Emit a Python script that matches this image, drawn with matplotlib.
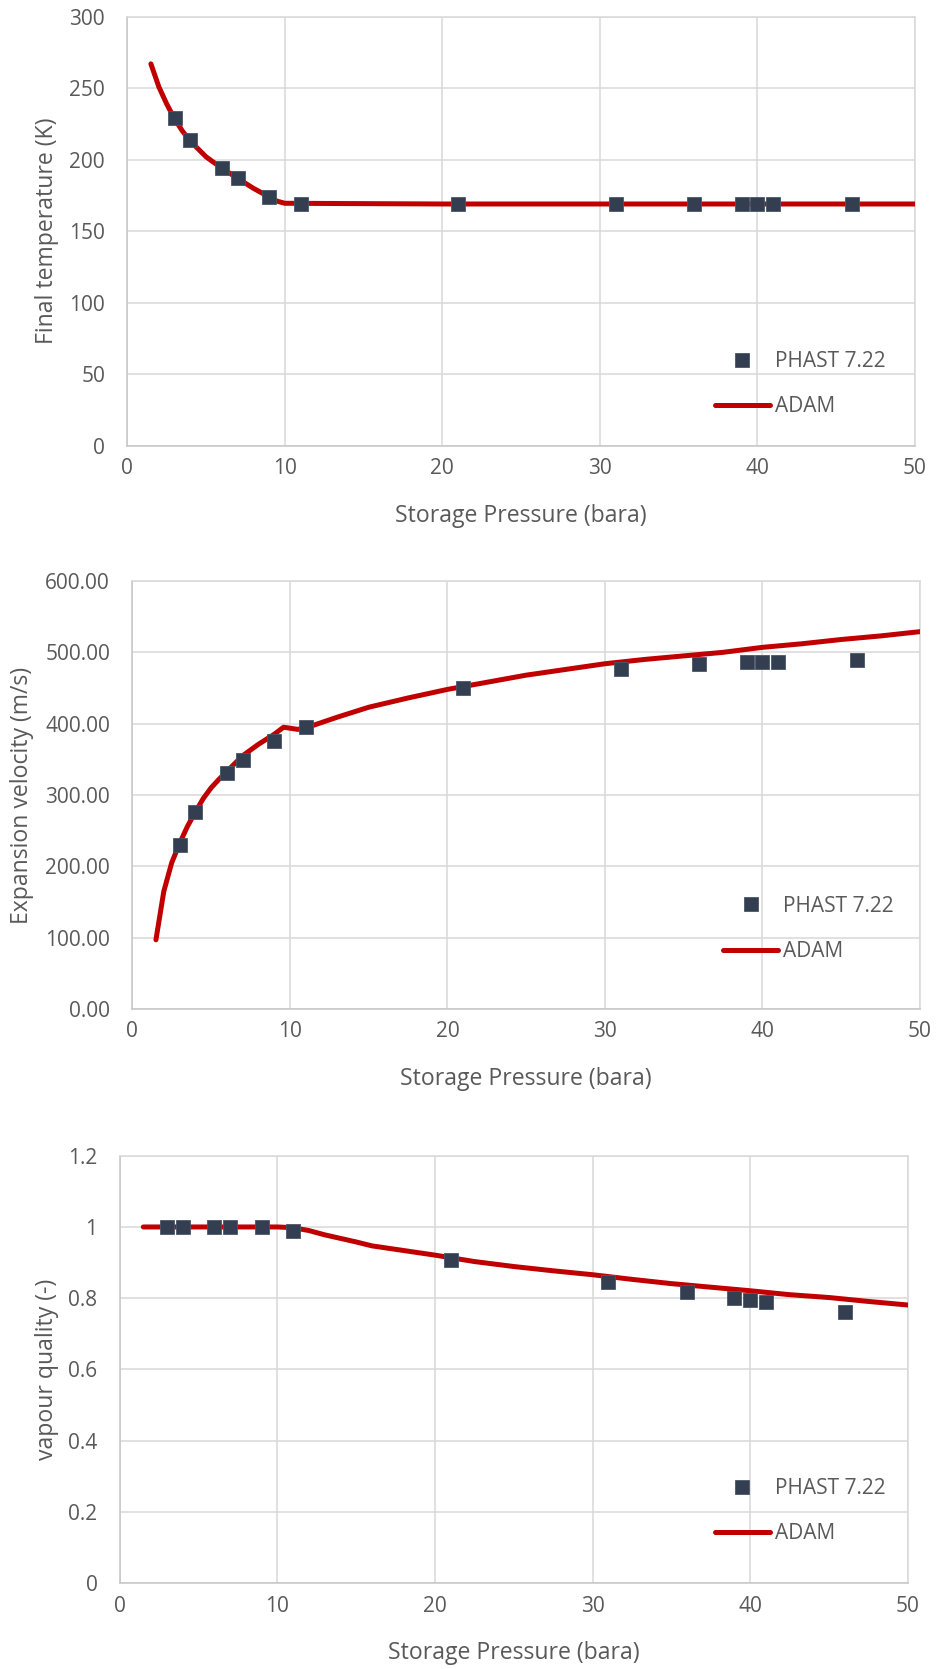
import matplotlib
matplotlib.use("Agg")
import matplotlib.pyplot as plt
from matplotlib.lines import Line2D
from matplotlib.ticker import FormatStrFormatter, FuncFormatter, MultipleLocator

# ---- data -----------------------------------------------------------------
phast_pressure = [3, 4, 6, 7, 9, 11, 21, 31, 36, 39, 40, 41, 46]
phast_temperature = [229, 214, 194, 187, 174, 169, 169, 169, 169, 169, 169, 169, 169]
phast_velocity = [230, 276, 331, 349, 376, 395, 450, 476, 484, 486, 487, 487, 489]
phast_quality = [1.0, 1.0, 1.0, 1.0, 1.0, 0.99, 0.906, 0.846, 0.818, 0.800, 0.796, 0.789, 0.760]

adam_t_pressure = [1.5, 2, 2.5, 3, 3.5, 4, 5, 6, 7, 8, 9, 9.5, 10, 20, 30, 40, 50]
adam_temperature = [267, 251, 239, 228.5, 220, 213, 202, 194, 187, 180, 174, 171, 169.5,
                    169, 169, 169, 169]

adam_v_pressure = [1.5, 2, 2.5, 3, 3.5, 4, 4.5, 5, 5.5, 6, 7, 8, 9, 9.6, 10.5, 11, 13, 15,
                   17.5, 20, 22.5, 25, 27.5, 30, 32.5, 35, 37.5, 40, 42.5, 45, 47.5, 50]
adam_velocity = [97, 165, 205, 232, 256, 276, 295, 310, 322, 333, 355, 371, 385, 395, 392,
                 394, 409, 423, 436, 448, 458, 468, 476, 484, 490, 495, 500, 507, 512, 518,
                 523, 529]

adam_q_pressure = [1.5, 5, 10, 11, 12, 13, 14, 15, 16, 18, 20, 22.5, 25, 27.5, 30, 32.5,
                   35, 37.5, 40, 42.5, 45, 47.5, 50]
adam_quality = [1.0, 1.0, 1.0, 0.998, 0.99, 0.978, 0.968, 0.958, 0.947, 0.934, 0.921, 0.903,
                0.889, 0.877, 0.866, 0.853, 0.841, 0.831, 0.821, 0.810, 0.802, 0.791, 0.781]

x_label = "Storage Pressure (bara)"
series_labels = ["PHAST 7.22", "ADAM"]

# ---- style ----------------------------------------------------------------
plt.rcParams["font.family"] = ["Open Sans", "DejaVu Sans"]
TEXT = "#595959"
GRID = "#d9d9d9"
AXIS = "#c6c6c6"
RED = "#c00000"
NAVY = "#333f50"
TICK_FS = 15
LABEL_FS = 16.6

fig = plt.figure(figsize=(9.36, 16.69), dpi=100)

panels = [
    dict(rect=[0.1360, 0.7330, 0.8415, 0.2570], ylim=(0, 300), ystep=50,
         fmt=FormatStrFormatter("%d"), ylabel="Final temperature (K)",
         px=phast_pressure, py=phast_temperature, ax_=adam_t_pressure, ay=adam_temperature,
         ylab_x=-0.1016, leg=(0.746, 0.2207)),
    dict(rect=[0.14135, 0.39545, 0.8416, 0.25644], ylim=(0, 600), ystep=100,
         fmt=FormatStrFormatter("%.2f"), ylabel="Expansion velocity (m/s)",
         px=phast_pressure, py=phast_velocity, ax_=adam_v_pressure, ay=adam_velocity,
         ylab_x=-0.1397, leg=(0.750, 0.2648)),
    dict(rect=[0.12788, 0.05135, 0.8419, 0.2562], ylim=(0, 1.2), ystep=0.2,
         fmt=FuncFormatter(lambda v, p: f"{v:g}"), ylabel="vapour quality (-)",
         px=phast_pressure, py=phast_quality, ax_=adam_q_pressure, ay=adam_quality,
         ylab_x=-0.0927, leg=(0.755, 0.2458)),
]

for p in panels:
    ax = fig.add_axes(p["rect"])
    ax.set_xlim(0, 50)
    ax.set_ylim(*p["ylim"])
    ax.xaxis.set_major_locator(MultipleLocator(10))
    ax.yaxis.set_major_locator(MultipleLocator(p["ystep"]))
    ax.yaxis.set_major_formatter(p["fmt"])

    ax.grid(True, color=GRID, linewidth=1.1, zorder=0)
    ax.set_axisbelow(True)
    for side in ("top", "right"):
        ax.spines[side].set_color(GRID)
        ax.spines[side].set_linewidth(1.1)
    for side in ("left", "bottom"):
        ax.spines[side].set_color(AXIS)
        ax.spines[side].set_linewidth(1.1)

    ax.tick_params(axis="both", length=0, labelsize=TICK_FS, labelcolor=TEXT)
    ax.tick_params(axis="y", pad=16)
    ax.tick_params(axis="x", pad=9)

    ax.plot(p["ax_"], p["ay"], color=RED, linewidth=3.6, solid_capstyle="round",
            solid_joinstyle="round", zorder=3)
    ax.plot(p["px"], p["py"], linestyle="none", marker="s", markersize=9.6,
            markerfacecolor=NAVY, markeredgecolor="#4a566a", markeredgewidth=0.6, zorder=4)

    ax.set_xlabel(x_label, fontsize=LABEL_FS, color=TEXT)
    ax.xaxis.label.set_va("center")
    ax.xaxis.set_label_coords(0.5, -70 / (p["rect"][3] * 1669))
    ax.set_ylabel(p["ylabel"], fontsize=LABEL_FS, color=TEXT)
    ax.yaxis.label.set_va("center")
    ax.yaxis.set_label_coords(p["ylab_x"], 0.5)

    handles = [
        Line2D([], [], linestyle="none", marker="s", markersize=9.6,
               markerfacecolor=NAVY, markeredgecolor="#4a566a", markeredgewidth=0.6),
        Line2D([], [], color=RED, linewidth=3.6, solid_capstyle="round"),
    ]
    ax.legend(handles, series_labels, loc="upper left", bbox_to_anchor=p["leg"],
              frameon=False, borderpad=0, borderaxespad=0, fontsize=TICK_FS,
              labelcolor=TEXT, handlelength=2.64, handletextpad=0.24, labelspacing=1.16)

fig.savefig("out.png", dpi=100)
